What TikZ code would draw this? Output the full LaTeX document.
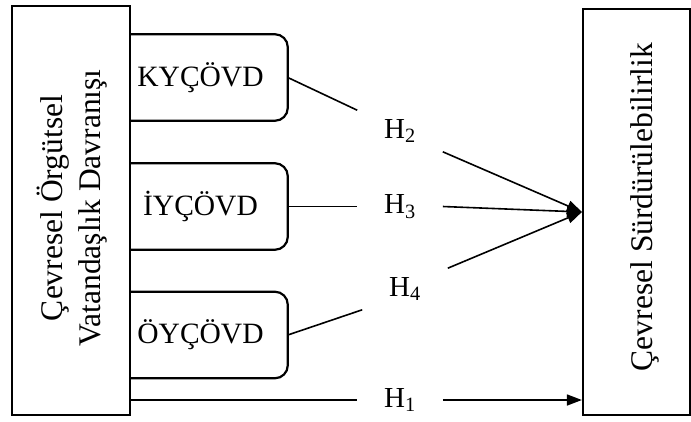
\documentclass[tikz,border=0pt]{standalone}
\usepackage{fontspec}
\setmainfont{Liberation Serif}
\usetikzlibrary{arrows.meta}

\begin{document}
\begin{tikzpicture}[x=1pt, y=-1pt, line width=1.6pt,
    frame/.style={draw, line width=2.2pt, inner sep=0pt},
    dimbox/.style={minimum width=157pt, minimum height=85pt, inner sep=0pt,
        font=\fontsize{29.5}{34}\selectfont, execute at begin node={\hspace*{-16pt}}},
    hyp/.style={minimum width=84pt, minimum height=40pt, inner sep=0pt, font=\fontsize{29}{34}\selectfont},
    vtext/.style={rotate=90, align=center, font=\fontsize{31.5}{38}\selectfont},
    link/.style={-{Triangle[length=15pt, width=11pt]}}]
    \useasboundingbox (0,0) rectangle (691,421);

    % independent and dependent variables
    \node[frame, minimum width=118pt, minimum height=409pt] (cosd) at (71,210.5) {};
    \node[vtext] at (72,208) {Çevresel Örgütsel\\Vatandaşlık Davranışı};
    \node[frame, minimum width=107pt, minimum height=406pt] (ss) at (636.5,212) {};
    \node[vtext] at (645,207) {Çevresel Sürdürülebilirlik};

    % sub-dimensions attached to the left box
    \node[dimbox] (kyc) at (208.5,77.5) {KYÇÖVD};
    \node[dimbox] (iyc) at (208.5,206.5) {İYÇÖVD};
    \node[dimbox] (oyc) at (208.5,335) {ÖYÇÖVD};
    \foreach \d in {kyc, iyc, oyc}
        \draw[rounded corners=13pt, line width=2.2pt] (\d.north west) -- (\d.north east)
            -- (\d.south east) -- (\d.south west);

    % hypotheses
    \node[hyp] (h2) at (400,131) {H\textsubscript{2}};
    \node[hyp] (h3) at (400,206.5) {H\textsubscript{3}};
    \node[hyp] (h4) at (405,289) {H\textsubscript{4}};
    \node[hyp] (h1) at (400,400) {H\textsubscript{1}};

    \draw (kyc.east) -- (h2.north west);
    \draw[link] (h2.south east) -- (ss.west);
    \draw (iyc.east) -- (h3.west);
    \draw[link] (h3.east) -- (ss.west);
    \draw (oyc.east) -- (h4.south west);
    \draw[link] (h4.north east) -- (ss.west);
    \draw (h1.west -| cosd.east) -- (h1.west);
    \draw[link] (h1.east) -- (h1.east -| ss.west);
\end{tikzpicture}
\end{document}
